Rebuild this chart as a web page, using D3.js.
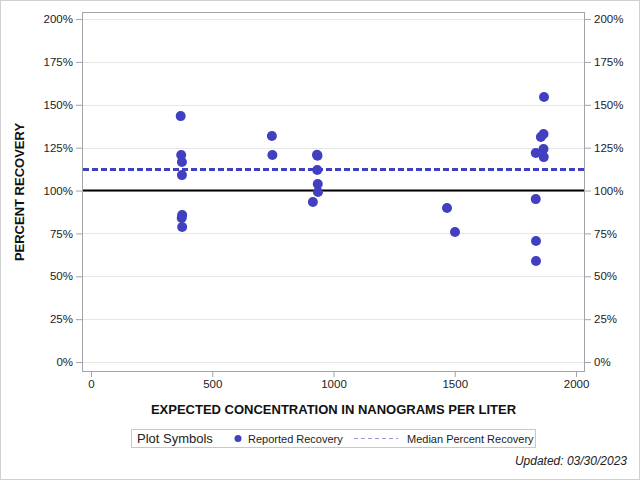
<!DOCTYPE html>
<html><head><meta charset="utf-8">
<script src="https://cdn.jsdelivr.net/npm/d3@7"></script>
<style>body{margin:0;background:#fff}svg{display:block;font-family:"Liberation Sans",Arial,sans-serif}</style>
</head><body><svg id="c" width="640" height="480"></svg>
<script>
const concentration = [370,372,375,375,376,374,376, 746,748, 932,934,933,935,936,915, 1468,1501, 1834,1834,1835,1835, 1868,1866,1855,1866,1867];
const recovery      = [143.4,120.7,116.6,109.0,85.7,84.0,78.7, 131.8,120.7, 120.9,120.3,112.0,103.8,99.1,93.3, 89.8,75.8, 121.9,95.0,70.6,58.9, 154.5,133.0,131.2,124.2,119.5];
const medianRecovery = 112.2;
const referenceRecovery = 100;
const xTicks = [0,500,1000,1500,2000];
const yTicks = [0,25,50,75,100,125,150,175,200];
const legendLabels = ["Plot Symbols","Reported Recovery","Median Percent Recovery"];
const xTitle = "EXPECTED CONCENTRATION IN NANOGRAMS PER LITER";
const yTitle = "PERCENT RECOVERY";
const updated = "Updated: 03/30/2023";

const svg = d3.select("#c");
const L=82,R=585,T=12,B=372;
const x = d3.scaleLinear().domain([-37,2037]).range([L,R]);
const y = d3.scaleLinear().domain([-5.8,204.1]).range([B,T]);
const blue = "#4040c0";

svg.append("rect").attr("x",0.5).attr("y",0.5).attr("width",639).attr("height",479).attr("fill","none").attr("stroke","#d0d0d0");

// grid
svg.append("g").selectAll("line").data(yTicks).join("line")
  .attr("x1",L).attr("x2",R).attr("y1",d=>Math.round(y(d))+0.5).attr("y2",d=>Math.round(y(d))+0.5)
  .attr("stroke","#e6e6e6");

// frame
svg.append("rect").attr("x",L+0.5).attr("y",T+0.5).attr("width",R-L-1).attr("height",B-T-1).attr("fill","none").attr("stroke","#a0a4ab");

// axes
const axStyle = g=>{g.select(".domain").remove();g.selectAll("line").attr("stroke","#a0a4ab");g.selectAll("text").attr("fill","#222").style("font-size","11.5px").style("font-family","'Liberation Sans',Arial,sans-serif");};
svg.append("g").attr("transform",`translate(0,${B})`).call(d3.axisBottom(x).tickValues(xTicks).tickSize(5).tickPadding(3).tickFormat(d3.format("d"))).call(axStyle);
svg.append("g").attr("transform",`translate(${L},0)`).call(d3.axisLeft(y).tickValues(yTicks).tickSize(6).tickPadding(3).tickFormat(d=>d+"%")).call(axStyle);
svg.append("g").attr("transform",`translate(${R},0)`).call(d3.axisRight(y).tickValues(yTicks).tickSize(6).tickPadding(3).tickFormat(d=>d+"%")).call(axStyle);

// reference line
svg.append("line").attr("x1",L+1).attr("x2",R-1).attr("y1",y(referenceRecovery)).attr("y2",y(referenceRecovery)).attr("stroke","#000").attr("stroke-width",2);
// median
svg.append("line").attr("x1",L+1).attr("x2",R-1).attr("y1",y(medianRecovery)).attr("y2",y(medianRecovery)).attr("stroke",blue).attr("stroke-width",3).attr("stroke-dasharray","6,3");

// points
svg.append("g").selectAll("circle").data(concentration.map((c,i)=>[c,recovery[i]])).join("circle")
  .attr("cx",d=>x(d[0])).attr("cy",d=>y(d[1])).attr("r",5).attr("fill",blue);

// titles
svg.append("text").attr("x",333.5).attr("y",414).attr("text-anchor","middle").attr("font-weight","bold").attr("font-size","13px").attr("fill","#111").text(xTitle);
svg.append("text").attr("transform",`translate(24,${(T+B)/2}) rotate(-90)`).attr("text-anchor","middle").attr("font-weight","bold").attr("font-size","13px").attr("fill","#111").text(yTitle);

// legend
const lg = svg.append("g");
lg.append("rect").attr("x",131.5).attr("y",429.5).attr("width",404).attr("height",18).attr("fill","#fff").attr("stroke","#c8c8c8");
lg.append("text").attr("x",137).attr("y",443).attr("font-size","13px").attr("fill","#222").text(legendLabels[0]);
lg.append("circle").attr("cx",238).attr("cy",438.5).attr("r",3.5).attr("fill",blue);
lg.append("text").attr("x",248).attr("y",442.5).attr("font-size","11px").attr("fill","#222").text(legendLabels[1]);
lg.append("line").attr("x1",354).attr("x2",398).attr("y1",438.5).attr("y2",438.5).attr("stroke","#9a9ade").attr("stroke-width",1).attr("stroke-dasharray","4,3");
lg.append("text").attr("x",407).attr("y",442.5).attr("font-size","11px").attr("fill","#222").text(legendLabels[2]);

svg.append("text").attr("x",627).attr("y",465).attr("text-anchor","end").attr("font-style","italic").attr("font-size","12px").attr("fill","#222").text(updated);
</script></body></html>
